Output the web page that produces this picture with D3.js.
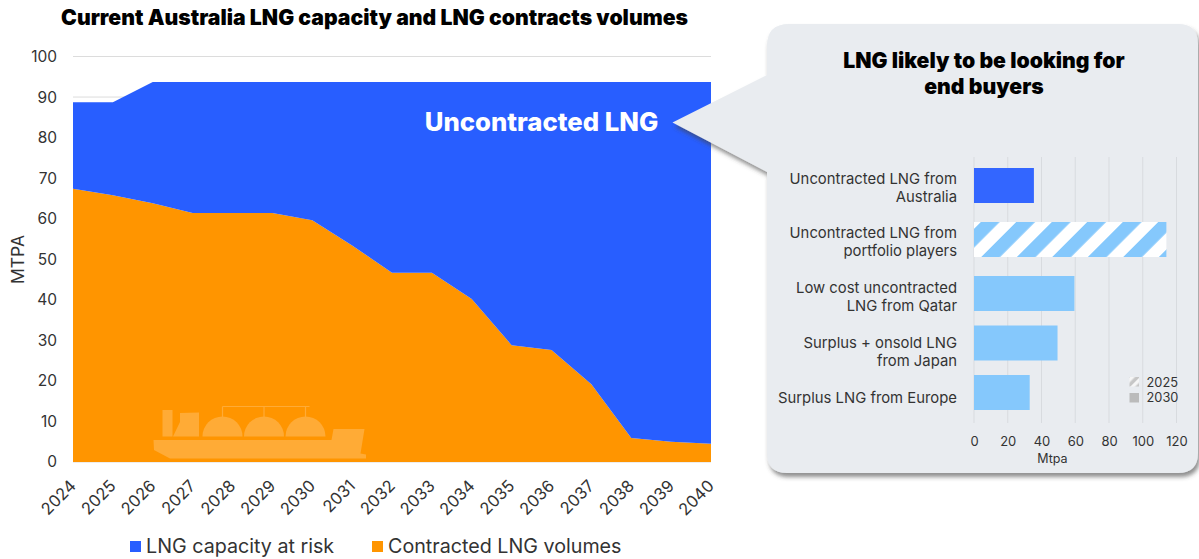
<!DOCTYPE html>
<html>
<head>
<meta charset="utf-8">
<script src="https://cdn.jsdelivr.net/npm/d3@7"></script>
<style>
  body { margin: 0; background: #fff; }
  svg { display: block; font-family: Inter, "Noto Sans", sans-serif; }
  .domain { display: none; }
</style>
</head>
<body>
<script>
const years = [2024, 2025, 2026, 2027, 2028, 2029, 2030, 2031, 2032, 2033, 2034, 2035, 2036, 2037, 2038, 2039, 2040];
const contracted = [67.4, 65.8, 63.8, 61.4, 61.4, 61.4, 59.6, 53.4, 46.7, 46.7, 40.2, 28.8, 27.6, 19.2, 5.9, 5.0, 4.5];
const atRisk = [21.3, 22.9, 29.9, 32.3, 32.3, 32.3, 34.1, 40.3, 47.0, 47.0, 53.5, 64.9, 66.1, 74.5, 87.8, 88.7, 89.2];

const buyers = ['Uncontracted LNG from|Australia', 'Uncontracted LNG from|portfolio players', 'Low cost uncontracted|LNG from Qatar', 'Surplus + onsold LNG|from Japan', 'Surplus LNG from Europe'];
const buyerValues = [35.5, 114, 59.5, 49.5, 33];
const buyerKinds = ['australia', 'hatched', 'plain', 'plain', 'plain'];

const width = 1199;
const height = 559;

const svg = d3.select('body').append('svg')
    .attr('width', width)
    .attr('height', height);

const defs = svg.append('defs');

const hatch = defs.append('pattern')
    .attr('id', 'hatch')
    .attr('patternUnits', 'userSpaceOnUse')
    .attr('width', 25.1)
    .attr('height', 25.1)
    .attr('patternTransform', 'translate(1016.3 222) rotate(45)');
hatch.append('rect').attr('width', 25.1).attr('height', 25.1).attr('fill', '#fff');
hatch.append('rect').attr('width', 13.3).attr('height', 25.1).attr('fill', '#85c8fc');

const hatchGrey = defs.append('pattern')
    .attr('id', 'hatchGrey')
    .attr('patternUnits', 'userSpaceOnUse')
    .attr('width', 7)
    .attr('height', 7)
    .attr('patternTransform', 'translate(1129 378) rotate(45)');
hatchGrey.append('rect').attr('width', 7).attr('height', 7).attr('fill', '#c6c6c6');
hatchGrey.append('rect').attr('width', 3.5).attr('height', 7).attr('fill', '#f6f6f6');

const shadow = defs.append('filter')
    .attr('id', 'shadow')
    .attr('x', '-5%').attr('y', '-5%').attr('width', '112%').attr('height', '112%');
shadow.append('feDropShadow')
    .attr('dx', 2).attr('dy', 4).attr('stdDeviation', 2)
    .attr('flood-color', '#444').attr('flood-opacity', 0.6);

// left chart
const xScale = d3.scaleLinear()
    .domain([2024, 2040])
    .range([73, 711]);
const yScale = d3.scaleLinear()
    .domain([0, 100])
    .range([462, 56.5]);

svg.append('g').selectAll('line').data(d3.range(0, 101, 10))
    .enter().append('line')
    .attr('x1', xScale(2024))
    .attr('x2', xScale(2040))
    .attr('y1', d => yScale(d))
    .attr('y2', d => yScale(d))
    .attr('stroke', '#dcdcdc');

const rows = years.map((y, i) => ({ year: y, contracted: contracted[i], atRisk: atRisk[i] }));
const stacked = d3.stack().keys(['contracted', 'atRisk'])(rows);
const areaColors = { contracted: '#ff9500', atRisk: '#285eff' };
const area = d3.area()
    .x(d => xScale(d.data.year))
    .y0(d => yScale(d[0]))
    .y1(d => yScale(d[1]));

svg.append('g').selectAll('path').data(stacked)
    .enter().append('path')
    .attr('d', area)
    .attr('fill', d => areaColors[d.key]);

const yAxis = d3.axisLeft(yScale).tickValues(d3.range(0, 101, 10)).tickSize(0).tickPadding(16);
svg.append('g')
    .attr('transform', `translate(${xScale(2024)}, 0)`)
    .call(yAxis)
    .selectAll('text')
    .attr('font-size', 15.5)
    .attr('font-family', 'Inter')
    .attr('fill', '#333');

const xAxis = d3.axisBottom(xScale).tickValues(years).tickFormat(d3.format('d')).tickSize(0).tickPadding(0);
svg.append('g')
    .attr('transform', `translate(0, ${yScale(0)})`)
    .call(xAxis)
    .selectAll('text')
    .attr('font-size', 16.5)
    .attr('font-family', 'Inter')
    .attr('fill', '#333')
    .attr('text-anchor', 'end')
    .attr('dy', 0)
    .attr('y', 0)
    .attr('transform', 'translate(3.5, 25) rotate(-45)');

svg.append('text')
    .attr('transform', 'translate(24, 259.5) rotate(-90)')
    .attr('text-anchor', 'middle')
    .attr('font-size', 17.5)
    .attr('fill', '#333')
    .text('MTPA');

svg.append('text')
    .attr('x', 374.5).attr('y', 25)
    .attr('text-anchor', 'middle')
    .attr('font-size', 21.2)
    .attr('font-weight', 900)
    .attr('fill', '#000')
    .text('Current Australia LNG capacity and LNG contracts volumes');

svg.append('text')
    .attr('x', 541.5).attr('y', 131)
    .attr('text-anchor', 'middle')
    .attr('font-size', 25.7)
    .attr('font-weight', 800)
    .attr('fill', '#fff')
    .text('Uncontracted LNG');

// ship icon
const ship = svg.append('g').attr('fill', '#ffab36');
ship.append('path').attr('d', 'M153.5 440H331.5L333.5 429H364.5L360.5 453.5L366 454.5V458.5H170L154 450Z');
ship.append('path').attr('d', 'M162.5 410H172.5V422L172.5 436.5H162.5Z');
ship.append('path').attr('d', 'M173 436.5L180 422V413L199 412.5V436.5Z');
[222.5, 264, 305.5].forEach(cx => {
    ship.append('path').attr('d', `M${cx - 20} 436.5A20 20 0 0 1 ${cx + 20} 436.5Z`);
    ship.append('line')
        .attr('x1', cx).attr('x2', cx)
        .attr('y1', 406.5).attr('y2', 417)
        .attr('stroke', '#ffab36').attr('stroke-width', 1.2);
});
ship.append('line')
    .attr('x1', 222.5).attr('x2', 309.5)
    .attr('y1', 406.5).attr('y2', 406.5)
    .attr('stroke', '#ffab36').attr('stroke-width', 1.2);

// legend
const legendItems = [
    { label: 'LNG capacity at risk', color: areaColors.atRisk, x: 130 },
    { label: 'Contracted LNG volumes', color: areaColors.contracted, x: 372 }
];
const legend = svg.append('g').selectAll('g').data(legendItems)
    .enter().append('g')
    .attr('transform', d => `translate(${d.x}, 541)`);
legend.append('rect')
    .attr('width', 11)
    .attr('height', 11)
    .attr('fill', d => d.color);
legend.append('text')
    .attr('x', 16).attr('y', 12)
    .attr('font-size', 19.7)
    .attr('fill', '#333')
    .text(d => d.label);

// callout panel
const panel = d3.path();
panel.moveTo(789, 24);
panel.lineTo(1178, 24);
panel.quadraticCurveTo(1198, 24, 1198, 44);
panel.lineTo(1198, 453);
panel.quadraticCurveTo(1198, 473, 1178, 473);
panel.lineTo(787, 473);
panel.quadraticCurveTo(767, 473, 767, 453);
panel.lineTo(767, 172);
panel.lineTo(672.5, 122.5);
panel.lineTo(767, 75);
panel.lineTo(767, 46);
panel.quadraticCurveTo(767, 24, 789, 24);
panel.closePath();
svg.append('path')
    .attr('d', panel.toString())
    .attr('fill', '#e9ecf0')
    .attr('filter', 'url(#shadow)');

svg.append('g').selectAll('text').data(['LNG likely to be looking for', 'end buyers'])
    .enter().append('text')
    .attr('x', 984)
    .attr('y', (d, i) => 68 + i * 26)
    .attr('text-anchor', 'middle')
    .attr('font-size', 21.2)
    .attr('font-weight', 900)
    .attr('fill', '#000')
    .text(d => d);

// bar chart in the panel
const barX = d3.scaleLinear()
    .domain([0, 120])
    .range([974, 1176.5]);
// the first three rows sit a little further apart than the last two
const barY = d3.scaleLinear()
    .domain([0, 2, 4])
    .range([168, 276, 375]);
// labels are evenly spaced and do not quite follow the bars
const labelY = d3.scaleLinear()
    .domain([0, 4])
    .range([178, 397]);
const barHeight = 35;
const barColor = { australia: '#3366ff', hatched: 'url(#hatch)', plain: '#85c8fc' };

const barAxis = d3.axisBottom(barX).tickValues(d3.range(0, 121, 20)).tickSize(0).tickPadding(14);
svg.append('g').selectAll('line').data(barX.ticks(6))
    .enter().append('line')
    .attr('x1', d => barX(d))
    .attr('x2', d => barX(d))
    .attr('y1', 157)
    .attr('y2', 423)
    .attr('stroke', '#d8dbdf');

svg.append('g')
    .attr('transform', 'translate(0, 423)')
    .call(barAxis)
    .selectAll('text')
    .attr('font-size', 13)
    .attr('font-family', 'Inter')
    .attr('fill', '#333');

svg.append('text')
    .attr('x', barX(46.5)).attr('y', 463)
    .attr('text-anchor', 'middle')
    .attr('font-size', 12.5)
    .attr('fill', '#333')
    .text('Mtpa');

svg.append('g').selectAll('rect').data(buyerValues)
    .enter().append('rect')
    .attr('x', barX(0))
    .attr('y', (d, i) => barY(i))
    .attr('width', d => barX(d) - barX(0))
    .attr('height', barHeight)
    .attr('fill', (d, i) => barColor[buyerKinds[i]]);

const buyerLabels = svg.append('g').selectAll('text').data(buyers)
    .enter().append('text')
    .attr('text-anchor', 'end')
    .attr('font-size', 14.85)
    .attr('fill', '#333');
buyerLabels.each(function (d, i) {
    d3.select(this).selectAll('tspan').data(d.split('|'))
        .enter().append('tspan')
        .attr('x', 957)
        .attr('y', (l, j) => labelY(i) + 5.5 + j * 18)
        .text(l => l);
});

const yearKey = [{ label: '2025', fill: 'url(#hatchGrey)', y: 377, base: 386.5 }, { label: '2030', fill: '#bbb', y: 393, base: 402 }];
const key = svg.append('g').selectAll('g').data(yearKey)
    .enter().append('g');
key.append('rect')
    .attr('x', 1129.5)
    .attr('y', d => d.y)
    .attr('width', 9.5)
    .attr('height', 9.5)
    .attr('fill', d => d.fill);
key.append('text')
    .attr('x', 1146.5)
    .attr('y', d => d.base)
    .attr('font-size', 12.8)
    .attr('fill', '#333')
    .text(d => d.label);
</script>
</body>
</html>
